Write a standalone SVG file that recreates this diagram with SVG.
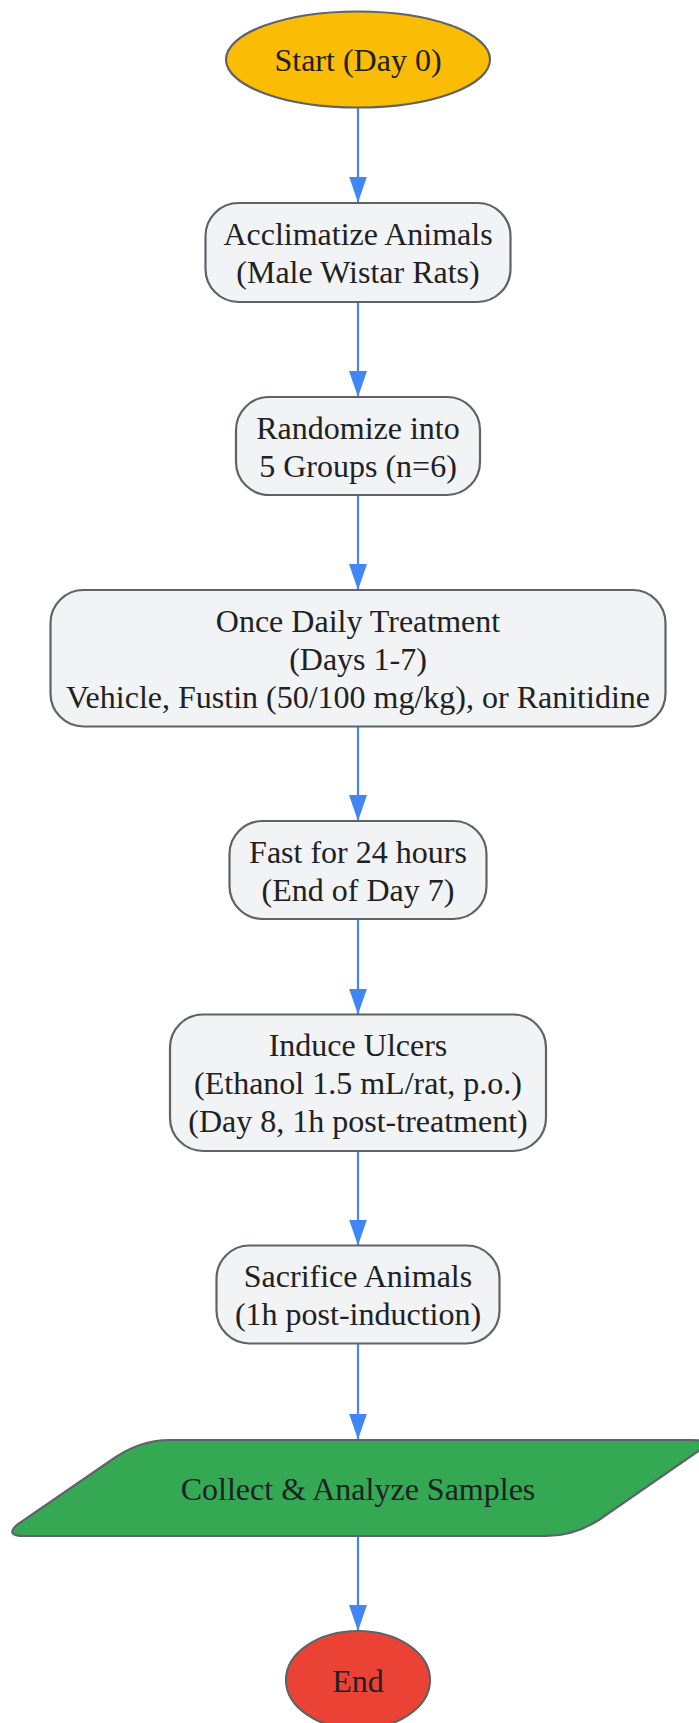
<svg xmlns="http://www.w3.org/2000/svg" width="699" height="1723" viewBox="0 0 699 1723">
<defs>
<marker id="arrow" viewBox="0 0 26 18" refX="26" refY="9" markerWidth="26" markerHeight="18" markerUnits="userSpaceOnUse" orient="auto">
<path d="M0,0 L26,9 L0,18 z" fill="#4285F4"/>
</marker>
<style>
.edge{stroke:#4285F4;stroke-width:2.2;fill:none;marker-end:url(#arrow);}
.box{fill:#F1F3F4;stroke:#5F6368;stroke-width:2.2;}
.shape{stroke:#5F6368;stroke-width:2.2;}
text{font-family:"Liberation Serif","Times New Roman",serif;font-size:32px;fill:#202124;text-anchor:middle;}
</style>
</defs>
<rect x="0" y="0" width="699" height="1723" fill="#FFFFFF"/>
<g id="connectors">
<line class="edge" x1="358" y1="107.5" x2="358" y2="202.5"/>
<line class="edge" x1="358" y1="302" x2="358" y2="397"/>
<line class="edge" x1="358" y1="495" x2="358" y2="590"/>
<line class="edge" x1="358" y1="726.5" x2="358" y2="821"/>
<line class="edge" x1="358" y1="919" x2="358" y2="1014.5"/>
<line class="edge" x1="358" y1="1151" x2="358" y2="1245.5"/>
<line class="edge" x1="358" y1="1343.5" x2="358" y2="1439.5"/>
<line class="edge" x1="358" y1="1536" x2="358" y2="1631"/>
</g>
<g id="start">
<ellipse class="shape" cx="358" cy="59.5" rx="132" ry="48" fill="#FBBC05"/>
<text x="358" y="71">Start (Day 0)</text>
</g>
<g id="acclimatize">
<rect class="box" x="205.5" y="203" width="305" height="99" rx="33" ry="33"/>
<text x="358" y="245">Acclimatize Animals</text>
<text x="358" y="283">(Male Wistar Rats)</text>
</g>
<g id="randomize">
<rect class="box" x="236" y="397" width="244" height="98" rx="33" ry="33"/>
<text x="358" y="438.5">Randomize into</text>
<text x="358" y="476.5">5 Groups (n=6)</text>
</g>
<g id="treatment">
<rect class="box" x="50.5" y="590" width="615" height="136.5" rx="33" ry="33"/>
<text x="358" y="631.8">Once Daily Treatment</text>
<text x="358" y="669.8">(Days 1-7)</text>
<text x="358" y="707.8">Vehicle, Fustin (50/100 mg/kg), or Ranitidine</text>
</g>
<g id="fast">
<rect class="box" x="229.5" y="821" width="257" height="98" rx="33" ry="33"/>
<text x="358" y="862.5">Fast for 24 hours</text>
<text x="358" y="900.5">(End of Day 7)</text>
</g>
<g id="induce">
<rect class="box" x="170" y="1014.5" width="376" height="136.5" rx="33" ry="33"/>
<text x="358" y="1056">Induce Ulcers</text>
<text x="358" y="1094">(Ethanol 1.5 mL/rat, p.o.)</text>
<text x="358" y="1132">(Day 8, 1h post-treatment)</text>
</g>
<g id="sacrifice">
<rect class="box" x="216.5" y="1245.5" width="283" height="98" rx="33" ry="33"/>
<text x="358" y="1287">Sacrifice Animals</text>
<text x="358" y="1325">(1h post-induction)</text>
</g>
<g id="collect">
<path class="shape" fill="#34A853" d="M24,1536 L546,1536 Q578,1536 606,1515 L700,1450 Q714,1440 692,1440 L170,1440 Q138,1440 110,1461 L18,1524 Q4,1536 24,1536 Z"/>
<text x="358" y="1499.5">Collect &amp; Analyze Samples</text>
</g>
<g id="end">
<ellipse class="shape" cx="358" cy="1680" rx="72" ry="49" fill="#EA4335"/>
<text x="358" y="1691.5">End</text>
</g>
</svg>
